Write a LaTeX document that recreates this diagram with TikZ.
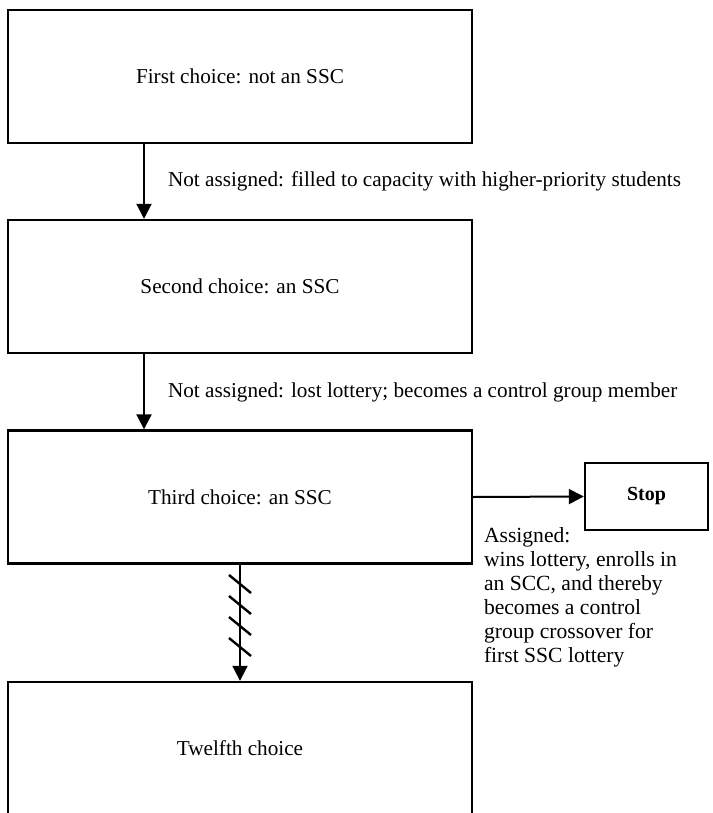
\documentclass[tikz,border=0pt]{standalone}
\usepackage{fontspec}
\setmainfont{Liberation Serif}
\usepackage{tikz}
\usetikzlibrary{positioning,arrows.meta}

\tikzset{
  choicebox/.style={draw, line width=1.2pt, minimum width=232pt, minimum height=66.5pt, inner sep=0pt},
  stopbox/.style={draw, line width=1.2pt, minimum width=61.5pt, minimum height=33.5pt, font=\bfseries},
  steplabel/.style={anchor=west, inner sep=0pt},
  hatch/.style={line width=1.2pt}
}

\begin{document}
\begin{tikzpicture}[x=0.5pt, y=-0.5pt, >={Triangle[length=7.5pt,width=7.5pt]}, line width=1pt,
  font=\fontsize{10.6}{12}\selectfont]
\useasboundingbox (0,0) rectangle (712,813);

% choice boxes (left column)
\node[choicebox] (first) at (240,76.5) {First choice: not an SSC};
\node[choicebox] (second) at (240,286.5) {Second choice: an SSC};
\node[choicebox] (third) at (240,497) {Third choice: an SSC};
\node[choicebox] (twelfth) at (240,748.5) {Twelfth choice};

% stop box (right)
\node[stopbox] (stop) at (646.5,496.5) {Stop};

% labels
\node[steplabel] (lbl1) at (167,181) {Not assigned: filled to capacity with higher-priority students};
\node[steplabel] (lbl2) at (167,392) {Not assigned: lost lottery; becomes a control group member};
\node[anchor=north west, inner sep=0pt, align=left, font=\fontsize{10.8}{12}\selectfont] (lbl3) at (483,527)
  {Assigned:\\wins lottery, enrolls in\\an SCC, and thereby\\becomes a control\\group crossover for\\first SSC lottery};

% arrows
\draw[->] ([xshift=-48pt]first.south) -- ([xshift=-48pt]second.north);
\draw[->] ([xshift=-48pt]second.south) -- ([xshift=-48pt]third.north);
\draw[->] (third.east) -- (stop.west);
\draw[->] (third.south) -- (twelfth.north);

% hatch marks on the skipped choices
\foreach \y in {584,605,626,647}
  \draw[hatch] (229,\y-9) -- (251,\y+9);
\end{tikzpicture}
\end{document}
